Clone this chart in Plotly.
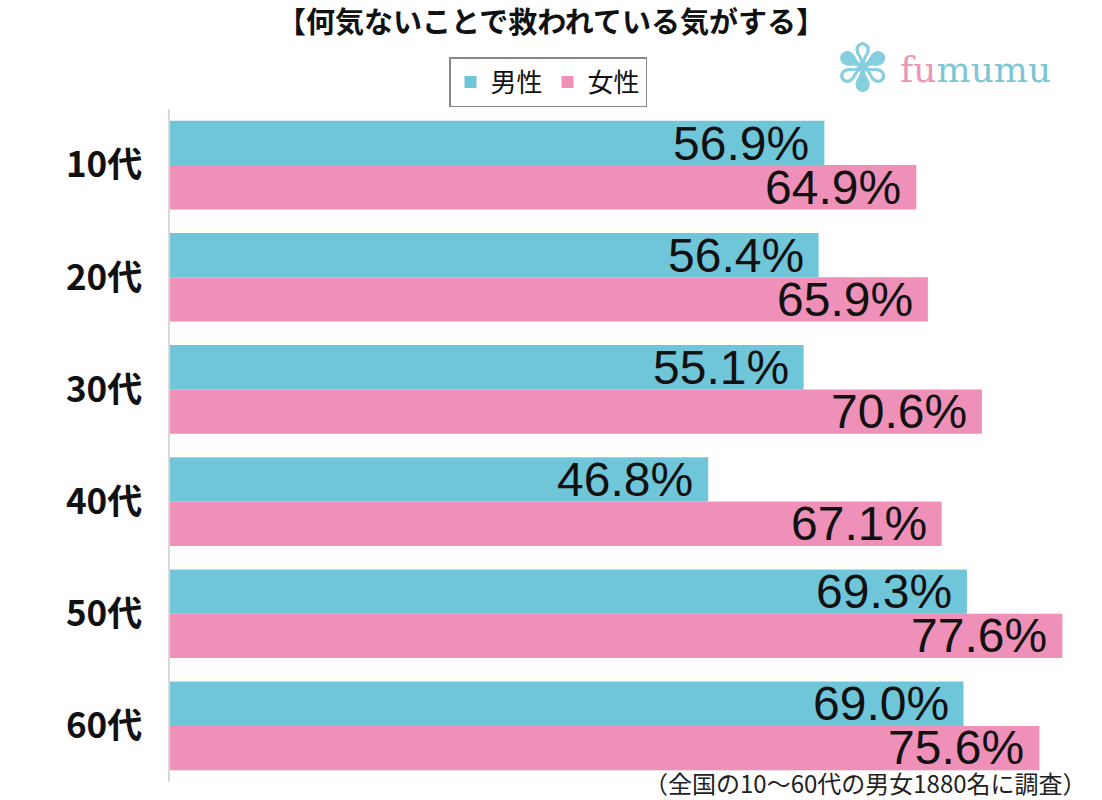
import plotly.graph_objects as go

categories = ["10代", "20代", "30代", "40代", "50代", "60代"]
male = [56.9, 56.4, 55.1, 46.8, 69.3, 69.0]
female = [64.9, 65.9, 70.6, 67.1, 77.6, 75.6]
series_names = ["男性", "女性"]
title_text = "【何気ないことで救われている気がする】"
note_text = "（全国の10～60代の男女1880名に調査）"

C_MALE = "#70C6D9"
C_FEMALE = "#EE90B8"
JP = "Noto Sans CJK JP"
NUM = "Liberation Sans, Arial, sans-serif"

# plot area in pixels: x 170..1090, y 109..782
L, R, T, B = 170, 1090, 109, 782


def px(x):
    return (x - L) / (R - L)


def py(y):
    return (B - y) / (B - T)


fig = go.Figure()
fig.add_trace(go.Bar(y=categories, x=male, name=series_names[0], orientation="h",
                     marker=dict(color=C_MALE, line=dict(width=0)), hoverinfo="skip"))
fig.add_trace(go.Bar(y=categories, x=female, name=series_names[1], orientation="h",
                     marker=dict(color=C_FEMALE, line=dict(width=0)), hoverinfo="skip"))

annotations = []
for cat, m, f in zip(categories, male, female):
    annotations.append(dict(x=m, y=cat, xref="x", yref="y", text=f"{m:.1f}%",
                            showarrow=False, xanchor="right", yanchor="middle",
                            xshift=-13, yshift=22,
                            font=dict(family=NUM, size=48, color="#111111")))
    annotations.append(dict(x=f, y=cat, xref="x", yref="y", text=f"{f:.1f}%",
                            showarrow=False, xanchor="right", yanchor="middle",
                            xshift=-13, yshift=-22,
                            font=dict(family=NUM, size=48, color="#111111")))

annotations.append(dict(x=px(1089), y=py(782), xref="paper", yref="paper",
                        text=note_text, showarrow=False, xanchor="right", yanchor="middle",
                        font=dict(family=JP, size=24, color="#222222")))
# logo
annotations.append(dict(x=px(862), y=py(68), xref="paper", yref="paper", text="✾",
                        showarrow=False, xanchor="center", yanchor="middle",
                        font=dict(family="DejaVu Sans", size=66, color="#86CFE0")))
annotations.append(dict(x=px(898), y=py(70), xref="paper", yref="paper",
                        text="<span style='color:#EE95B8'>fu</span><span style='color:#7CC6D6'>mumu</span>",
                        showarrow=False, xanchor="left", yanchor="middle",
                        font=dict(family="DejaVu Serif", size=36)))

fig.update_layout(
    width=1102, height=800,
    margin=dict(l=L, r=1102 - R, t=T, b=800 - B, pad=0, autoexpand=False),
    paper_bgcolor="white", plot_bgcolor="white",
    barmode="group", bargap=0.21, bargroupgap=0,
    title=dict(text=title_text, x=0.5, xanchor="center", y=1 - 23 / 800, yanchor="middle",
               font=dict(family=JP, size=29, color="#111111", weight="bold")),
    xaxis=dict(range=[0, 80], showgrid=False, zeroline=False, showticklabels=False,
               showline=False, fixedrange=True, automargin=False),
    yaxis=dict(range=[5.5, -0.5], showgrid=False, zeroline=False, showline=True,
               linecolor="#D8D8D8", linewidth=1.5, ticks="", ticklabelstandoff=19,
               automargin=False, fixedrange=True,
               tickfont=dict(family=JP, size=35, color="#111111", weight="bold")),
    legend=dict(orientation="h", xref="container", yref="container",
                x=548 / 1102, xanchor="center", y=1 - 57 / 800, yanchor="top",
                bordercolor="#888888", borderwidth=1.5, bgcolor="white",
                font=dict(family=JP, size=26, color="#111111"),
                itemwidth=30, traceorder="normal"),
    annotations=annotations,
    showlegend=True,
)

fig.write_html("out.html", config={"displayModeBar": False},
               post_script="document.body.style.margin='0';document.body.style.padding='0';")
